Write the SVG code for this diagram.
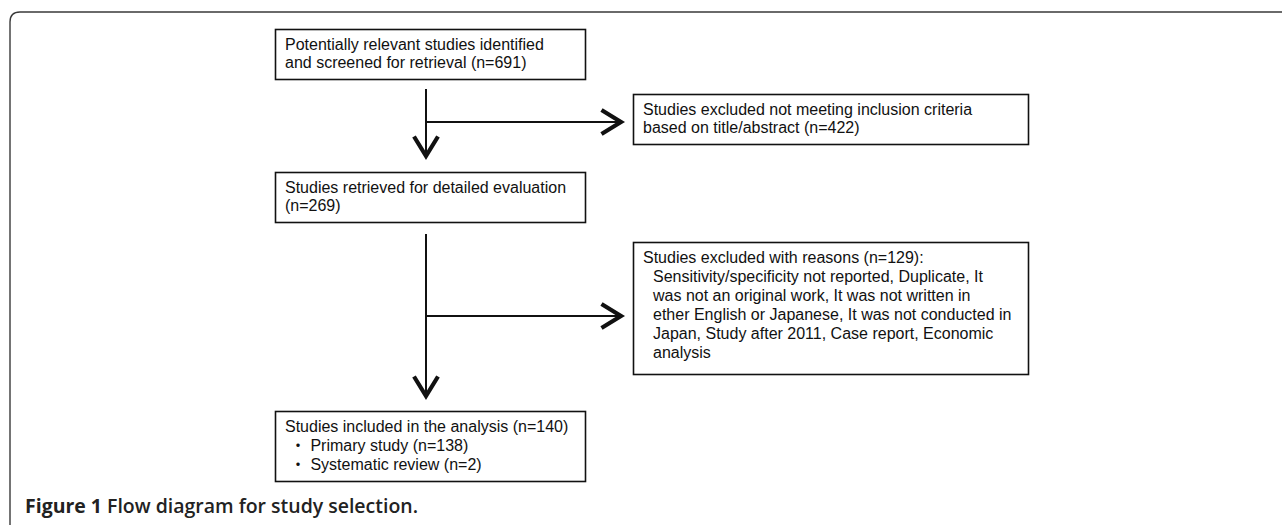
<svg xmlns="http://www.w3.org/2000/svg" width="1282" height="525" viewBox="0 0 1282 525">
<style>
.frame{fill:none;stroke:#3a3a3a;stroke-width:1.4}
.box{fill:#fff;stroke:#111;stroke-width:1.6}
.t{font-family:"Liberation Sans",Arial,"Noto Sans CJK JP",sans-serif;font-size:16px;fill:#111}
.conn{fill:none;stroke:#111;stroke-width:2}
.cap{font-family:"Open Sans","Liberation Sans",sans-serif;font-size:19px;fill:#222}
</style>
<defs>
<marker id="chev" markerUnits="userSpaceOnUse" markerWidth="30" markerHeight="30" refX="0" refY="0" viewBox="-16 -10 18 20" orient="auto">
<path d="M-13,-8 L0,0 L-13,8" fill="none" stroke="#111" stroke-width="2.8" stroke-linejoin="miter"/>
</marker>
</defs>
<path class="frame" d="M10,525 V22 Q10,12 20,12 H1282"/>
<g id="connectors">
<path class="conn" d="M426,89 V156" marker-end="url(#chev)"/>
<path class="conn" d="M426,122 H621" marker-end="url(#chev)"/>
<path class="conn" d="M426,234 V396" marker-end="url(#chev)"/>
<path class="conn" d="M426,316 H621" marker-end="url(#chev)"/>
</g>
<g id="n1">
<rect class="box" x="275.5" y="29.5" width="310" height="50"/>
<text class="t" x="285" y="50">Potentially relevant studies identified</text>
<text class="t" x="285" y="68">and screened for retrieval (n=691)</text>
</g>
<g id="n2">
<rect class="box" x="633.5" y="94.5" width="395" height="50"/>
<text class="t" x="643" y="115">Studies excluded not meeting inclusion criteria</text>
<text class="t" x="643" y="133">based on title/abstract (n=422)</text>
</g>
<g id="n3">
<rect class="box" x="275.5" y="172.5" width="310" height="50"/>
<text class="t" x="285" y="193">Studies retrieved for detailed evaluation</text>
<text class="t" x="285" y="211">(n=269)</text>
</g>
<g id="n4">
<rect class="box" x="633.5" y="242.5" width="395" height="132"/>
<text class="t" x="643" y="263">Studies excluded with reasons (n=129):</text>
<text class="t" x="653" y="282">Sensitivity/specificity not reported, Duplicate, It</text>
<text class="t" x="653" y="301">was not an original work, It was not written in</text>
<text class="t" x="653" y="320">ether English or Japanese, It was not conducted in</text>
<text class="t" x="653" y="339">Japan, Study after 2011, Case report, Economic</text>
<text class="t" x="653" y="358">analysis</text>
</g>
<g id="n5">
<rect class="box" x="275.5" y="411.5" width="310" height="70"/>
<text class="t" x="285" y="432">Studies included in the analysis (n=140)</text>
<text class="t" x="290" y="451">・ Primary study (n=138)</text>
<text class="t" x="290" y="470">・ Systematic review (n=2)</text>
</g>
<g id="caption">
<text class="cap" x="25" y="513" textLength="393" lengthAdjust="spacingAndGlyphs"><tspan font-weight="700">Figure 1</tspan><tspan font-weight="600"> Flow diagram for study selection.</tspan></text>
</g>
</svg>
